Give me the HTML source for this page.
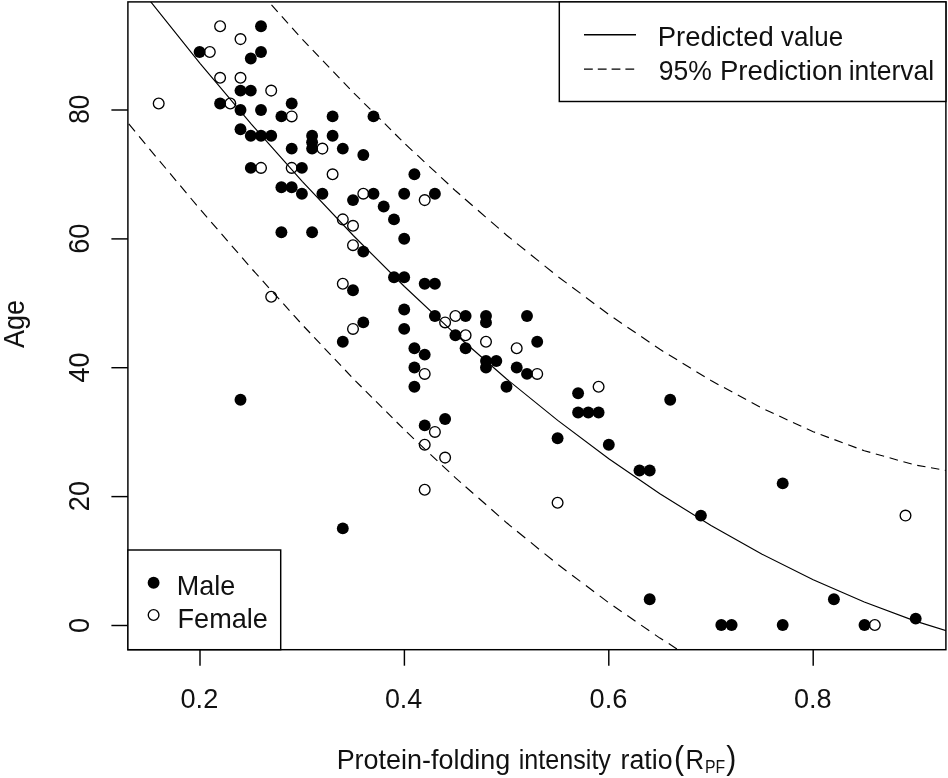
<!DOCTYPE html>
<html lang="en"><head><meta charset="utf-8"><title>Age vs protein-folding intensity ratio</title>
<style>html,body{margin:0;padding:0;background:#fff}body{width:948px;height:778px;overflow:hidden}</style></head>
<body>
<svg width="948" height="778" viewBox="0 0 948 778" style="display:block">
<rect x="0" y="0" width="948" height="778" fill="#fff"/>
<defs><clipPath id="cp"><rect x="127.9" y="1.9" width="818.0" height="647.8000000000001"/></clipPath></defs>
<g clip-path="url(#cp)">
<circle cx="220.1" cy="26.3" r="5.35" fill="none" stroke="#000" stroke-width="1.35"/>
<circle cx="261.0" cy="26.3" r="5.95" fill="#000"/>
<circle cx="240.5" cy="39.1" r="5.35" fill="none" stroke="#000" stroke-width="1.35"/>
<circle cx="199.6" cy="52.0" r="5.95" fill="#000"/>
<circle cx="209.8" cy="52.0" r="5.35" fill="none" stroke="#000" stroke-width="1.35"/>
<circle cx="261.0" cy="52.0" r="5.95" fill="#000"/>
<circle cx="250.8" cy="58.5" r="5.95" fill="#000"/>
<circle cx="220.1" cy="77.8" r="5.35" fill="none" stroke="#000" stroke-width="1.35"/>
<circle cx="240.5" cy="77.8" r="5.35" fill="none" stroke="#000" stroke-width="1.35"/>
<circle cx="240.5" cy="90.6" r="5.95" fill="#000"/>
<circle cx="250.8" cy="90.6" r="5.95" fill="#000"/>
<circle cx="271.2" cy="90.6" r="5.35" fill="none" stroke="#000" stroke-width="1.35"/>
<circle cx="158.7" cy="103.5" r="5.35" fill="none" stroke="#000" stroke-width="1.35"/>
<circle cx="220.1" cy="103.5" r="5.95" fill="#000"/>
<circle cx="230.3" cy="103.5" r="5.35" fill="none" stroke="#000" stroke-width="1.35"/>
<circle cx="291.7" cy="103.5" r="5.95" fill="#000"/>
<circle cx="240.5" cy="110.0" r="5.95" fill="#000"/>
<circle cx="261.0" cy="110.0" r="5.95" fill="#000"/>
<circle cx="281.4" cy="116.4" r="5.95" fill="#000"/>
<circle cx="291.7" cy="116.4" r="5.35" fill="none" stroke="#000" stroke-width="1.35"/>
<circle cx="332.6" cy="116.4" r="5.95" fill="#000"/>
<circle cx="240.5" cy="129.3" r="5.95" fill="#000"/>
<circle cx="250.8" cy="135.7" r="5.95" fill="#000"/>
<circle cx="261.0" cy="135.7" r="5.95" fill="#000"/>
<circle cx="271.2" cy="135.7" r="5.95" fill="#000"/>
<circle cx="312.1" cy="135.7" r="5.95" fill="#000"/>
<circle cx="312.1" cy="142.2" r="5.95" fill="#000"/>
<circle cx="312.1" cy="148.6" r="5.95" fill="#000"/>
<circle cx="332.6" cy="135.7" r="5.95" fill="#000"/>
<circle cx="291.7" cy="148.6" r="5.95" fill="#000"/>
<circle cx="322.4" cy="148.6" r="5.35" fill="none" stroke="#000" stroke-width="1.35"/>
<circle cx="250.8" cy="167.9" r="5.95" fill="#000"/>
<circle cx="261.0" cy="167.9" r="5.35" fill="none" stroke="#000" stroke-width="1.35"/>
<circle cx="291.7" cy="167.9" r="5.35" fill="none" stroke="#000" stroke-width="1.35"/>
<circle cx="301.9" cy="167.9" r="5.95" fill="#000"/>
<circle cx="332.6" cy="174.3" r="5.35" fill="none" stroke="#000" stroke-width="1.35"/>
<circle cx="281.4" cy="187.2" r="5.95" fill="#000"/>
<circle cx="291.7" cy="187.2" r="5.95" fill="#000"/>
<circle cx="301.9" cy="193.7" r="5.95" fill="#000"/>
<circle cx="322.4" cy="193.7" r="5.95" fill="#000"/>
<circle cx="373.5" cy="116.4" r="5.95" fill="#000"/>
<circle cx="342.8" cy="148.6" r="5.95" fill="#000"/>
<circle cx="363.3" cy="155.0" r="5.95" fill="#000"/>
<circle cx="414.4" cy="174.3" r="5.95" fill="#000"/>
<circle cx="353.0" cy="200.1" r="5.95" fill="#000"/>
<circle cx="363.3" cy="193.7" r="5.35" fill="none" stroke="#000" stroke-width="1.35"/>
<circle cx="373.5" cy="193.7" r="5.95" fill="#000"/>
<circle cx="404.2" cy="193.7" r="5.95" fill="#000"/>
<circle cx="434.9" cy="193.7" r="5.95" fill="#000"/>
<circle cx="424.7" cy="200.1" r="5.35" fill="none" stroke="#000" stroke-width="1.35"/>
<circle cx="383.7" cy="206.5" r="5.95" fill="#000"/>
<circle cx="394.0" cy="219.4" r="5.95" fill="#000"/>
<circle cx="342.8" cy="219.4" r="5.35" fill="none" stroke="#000" stroke-width="1.35"/>
<circle cx="353.0" cy="225.8" r="5.35" fill="none" stroke="#000" stroke-width="1.35"/>
<circle cx="281.4" cy="232.3" r="5.95" fill="#000"/>
<circle cx="312.1" cy="232.3" r="5.95" fill="#000"/>
<circle cx="404.2" cy="238.7" r="5.95" fill="#000"/>
<circle cx="353.0" cy="245.2" r="5.35" fill="none" stroke="#000" stroke-width="1.35"/>
<circle cx="363.3" cy="251.6" r="5.95" fill="#000"/>
<circle cx="394.0" cy="277.3" r="5.95" fill="#000"/>
<circle cx="404.2" cy="277.3" r="5.95" fill="#000"/>
<circle cx="424.7" cy="283.8" r="5.95" fill="#000"/>
<circle cx="434.9" cy="283.8" r="5.95" fill="#000"/>
<circle cx="342.8" cy="283.8" r="5.35" fill="none" stroke="#000" stroke-width="1.35"/>
<circle cx="353.0" cy="290.2" r="5.95" fill="#000"/>
<circle cx="404.2" cy="309.5" r="5.95" fill="#000"/>
<circle cx="434.9" cy="316.0" r="5.95" fill="#000"/>
<circle cx="455.4" cy="316.0" r="5.35" fill="none" stroke="#000" stroke-width="1.35"/>
<circle cx="465.6" cy="316.0" r="5.95" fill="#000"/>
<circle cx="486.0" cy="316.0" r="5.95" fill="#000"/>
<circle cx="486.0" cy="322.4" r="5.95" fill="#000"/>
<circle cx="527.0" cy="316.0" r="5.95" fill="#000"/>
<circle cx="445.1" cy="322.4" r="5.35" fill="none" stroke="#000" stroke-width="1.35"/>
<circle cx="363.3" cy="322.4" r="5.95" fill="#000"/>
<circle cx="353.0" cy="328.9" r="5.35" fill="none" stroke="#000" stroke-width="1.35"/>
<circle cx="404.2" cy="328.9" r="5.95" fill="#000"/>
<circle cx="455.4" cy="335.3" r="5.95" fill="#000"/>
<circle cx="465.6" cy="335.3" r="5.35" fill="none" stroke="#000" stroke-width="1.35"/>
<circle cx="342.8" cy="341.7" r="5.95" fill="#000"/>
<circle cx="486.0" cy="341.7" r="5.35" fill="none" stroke="#000" stroke-width="1.35"/>
<circle cx="537.2" cy="341.7" r="5.95" fill="#000"/>
<circle cx="414.4" cy="348.2" r="5.95" fill="#000"/>
<circle cx="465.6" cy="348.2" r="5.95" fill="#000"/>
<circle cx="516.7" cy="348.2" r="5.35" fill="none" stroke="#000" stroke-width="1.35"/>
<circle cx="424.7" cy="354.6" r="5.95" fill="#000"/>
<circle cx="486.0" cy="361.0" r="5.95" fill="#000"/>
<circle cx="496.3" cy="361.0" r="5.95" fill="#000"/>
<circle cx="486.0" cy="367.5" r="5.95" fill="#000"/>
<circle cx="414.4" cy="367.5" r="5.95" fill="#000"/>
<circle cx="516.7" cy="367.5" r="5.95" fill="#000"/>
<circle cx="424.7" cy="373.9" r="5.35" fill="none" stroke="#000" stroke-width="1.35"/>
<circle cx="527.0" cy="373.9" r="5.95" fill="#000"/>
<circle cx="537.2" cy="373.9" r="5.35" fill="none" stroke="#000" stroke-width="1.35"/>
<circle cx="414.4" cy="386.8" r="5.95" fill="#000"/>
<circle cx="506.5" cy="386.8" r="5.95" fill="#000"/>
<circle cx="445.1" cy="419.0" r="5.95" fill="#000"/>
<circle cx="424.7" cy="425.4" r="5.95" fill="#000"/>
<circle cx="434.9" cy="431.9" r="5.35" fill="none" stroke="#000" stroke-width="1.35"/>
<circle cx="424.7" cy="444.7" r="5.35" fill="none" stroke="#000" stroke-width="1.35"/>
<circle cx="445.1" cy="457.6" r="5.35" fill="none" stroke="#000" stroke-width="1.35"/>
<circle cx="598.6" cy="386.8" r="5.35" fill="none" stroke="#000" stroke-width="1.35"/>
<circle cx="578.1" cy="393.2" r="5.95" fill="#000"/>
<circle cx="670.2" cy="399.7" r="5.95" fill="#000"/>
<circle cx="578.1" cy="412.5" r="5.95" fill="#000"/>
<circle cx="588.3" cy="412.5" r="5.95" fill="#000"/>
<circle cx="598.6" cy="412.5" r="5.95" fill="#000"/>
<circle cx="557.6" cy="438.3" r="5.95" fill="#000"/>
<circle cx="608.8" cy="444.7" r="5.95" fill="#000"/>
<circle cx="639.5" cy="470.5" r="5.95" fill="#000"/>
<circle cx="649.7" cy="470.5" r="5.95" fill="#000"/>
<circle cx="557.6" cy="502.7" r="5.35" fill="none" stroke="#000" stroke-width="1.35"/>
<circle cx="782.7" cy="483.4" r="5.95" fill="#000"/>
<circle cx="700.9" cy="515.6" r="5.95" fill="#000"/>
<circle cx="905.5" cy="515.6" r="5.35" fill="none" stroke="#000" stroke-width="1.35"/>
<circle cx="649.7" cy="599.2" r="5.95" fill="#000"/>
<circle cx="721.3" cy="625.0" r="5.95" fill="#000"/>
<circle cx="731.6" cy="625.0" r="5.95" fill="#000"/>
<circle cx="782.7" cy="625.0" r="5.95" fill="#000"/>
<circle cx="833.9" cy="599.2" r="5.95" fill="#000"/>
<circle cx="864.5" cy="625.0" r="5.95" fill="#000"/>
<circle cx="874.8" cy="625.0" r="5.35" fill="none" stroke="#000" stroke-width="1.35"/>
<circle cx="915.7" cy="618.6" r="5.95" fill="#000"/>
<circle cx="240.5" cy="399.7" r="5.95" fill="#000"/>
<circle cx="342.8" cy="528.4" r="5.95" fill="#000"/>
<circle cx="424.7" cy="489.8" r="5.35" fill="none" stroke="#000" stroke-width="1.35"/>
<circle cx="271.2" cy="296.7" r="5.35" fill="none" stroke="#000" stroke-width="1.35"/>
<path d="M46.7,-137.6 L97.8,-67.5 L148.9,-0.5 L200.0,63.3 L251.1,123.9 L302.2,181.3 L353.3,235.5 L404.4,286.5 L455.5,334.3 L506.6,379.0 L557.7,420.4 L608.8,458.7 L659.9,493.7 L711.0,525.6 L762.1,554.2 L813.2,579.7 L864.3,602.0 L915.4,621.1 L966.5,637.0 L1017.6,649.7" fill="none" stroke="#000" stroke-width="1.15"/>
<path d="M108.2,98.7 L114.4,106.2 M118.5,111.3 L124.7,118.8 M128.8,123.8 L135.0,131.4 M139.1,136.4 L145.3,143.9 M149.4,148.9 L155.6,156.3 M159.7,161.2 L165.9,168.5 M170.0,173.4 L176.2,180.8 M180.3,185.7 L186.5,193.1 M190.6,198.0 L196.8,205.3 M200.9,210.2 L207.1,217.3 M211.2,222.1 L217.4,229.2 M221.5,233.9 L227.7,241.1 M231.8,245.8 L238.0,252.9 M242.1,257.7 L248.3,264.8 M252.4,269.5 L258.6,276.3 M262.7,280.9 L268.9,287.8 M273.0,292.3 L279.2,299.2 M283.3,303.7 L289.5,310.6 M293.6,315.2 L299.8,322.0 M303.9,326.5 L310.1,333.0 M314.2,337.4 L320.4,343.9 M324.5,348.3 L330.7,354.8 M334.8,359.2 L341.0,365.7 M345.1,370.0 L351.3,376.6 M355.4,380.8 L361.6,387.0 M365.7,391.1 L371.9,397.3 M376.0,401.4 L382.2,407.6 M386.3,411.7 L392.5,417.9 M396.6,422.0 L402.8,428.2 M406.9,432.2 L413.9,438.8 M418.6,443.2 L425.7,449.9 M430.4,454.3 L437.4,460.9 M442.1,465.3 L449.2,471.9 M453.9,476.4 L455.5,477.9 L460.9,482.6 M465.6,486.8 L473.3,493.5 M478.5,498.0 L486.2,504.8 M491.3,509.3 L499.0,516.1 M504.2,520.6 L506.6,522.8 L511.9,527.1 M517.0,531.3 L525.3,538.0 M530.8,542.4 L539.0,549.2 M544.5,553.6 L552.8,560.3 M558.3,564.8 L566.5,571.0 M572.1,575.2 L580.3,581.4 M585.9,585.5 L594.1,591.8 M599.7,595.9 L607.9,602.1 M613.5,606.0 L621.7,611.7 M627.3,615.5 L635.5,621.3 M641.1,625.1 L649.3,630.8 M654.9,634.6 L659.9,638.1 L663.1,640.1 M668.7,643.6 L676.9,648.9 M682.5,652.4 L690.7,657.7 M696.3,661.2 L704.5,666.4 M710.1,669.9 L711.0,670.5 L718.3,674.8 M723.9,678.0 L732.1,682.8 M737.7,686.0 L745.9,690.9 M751.5,694.1 L759.7,698.9 M765.3,702.0 L773.5,706.4 M779.1,709.4 L787.3,713.8 M792.9,716.8 L801.1,721.2 M806.7,724.2 L813.2,727.7 L814.9,728.6 M820.5,731.3 L828.7,735.5 M834.3,738.2 L842.5,742.4 M848.1,745.1 L856.3,749.2 M861.9,752.0 L864.3,753.2 L870.1,756.0 M875.7,758.5 L883.9,762.4 M889.5,765.0 L897.7,768.9 M903.3,771.5 L911.5,775.3 M917.1,777.9 L925.3,781.6 M930.9,784.0 L939.1,787.7 M944.7,790.2 L952.9,793.8 M958.5,796.3 L966.5,799.9 L966.7,800.0 M972.3,802.3 L980.5,805.9" fill="none" stroke="#000" stroke-width="1.15"/>
<path d="M106.7,-205.6 L112.9,-196.9 M117.0,-191.1 L123.2,-182.5 M127.3,-176.7 L133.5,-168.0 M137.6,-162.2 L143.8,-153.6 M147.9,-147.8 L148.9,-146.4 L154.1,-139.6 M158.2,-134.2 L164.4,-126.2 M168.5,-120.8 L174.7,-112.7 M178.8,-107.3 L185.0,-99.3 M189.1,-93.9 L195.3,-85.8 M199.4,-80.4 L200.0,-79.6 L205.6,-72.9 M209.7,-67.9 L215.9,-60.4 M220.0,-55.5 L226.2,-48.0 M230.3,-43.0 L236.5,-35.6 M240.6,-30.6 L246.8,-23.1 M250.9,-18.1 L251.1,-17.9 L257.1,-11.2 M261.2,-6.6 L267.4,0.3 M271.5,4.9 L277.7,11.8 M281.8,16.4 L288.0,23.3 M292.1,27.9 L298.3,34.8 M302.4,39.4 L308.6,45.8 M312.7,50.1 L318.9,56.6 M323.0,60.9 L329.2,67.3 M333.3,71.6 L339.5,78.1 M343.6,82.4 L349.8,88.8 M353.9,93.1 L360.1,99.2 M364.2,103.3 L370.4,109.4 M374.5,113.5 L380.7,119.7 M384.8,123.7 L391.0,129.9 M395.1,134.0 L401.3,140.1 M405.4,144.1 L412.5,150.8 M417.3,155.2 L424.4,161.9 M429.2,166.3 L436.4,172.9 M441.1,177.4 L448.3,184.0 M453.0,188.5 L455.5,190.8 L460.2,194.8 M464.9,199.0 L472.7,205.8 M477.9,210.3 L485.7,217.1 M491.0,221.6 L498.8,228.4 M504.0,232.9 L506.6,235.2 L511.8,239.4 M517.0,243.6 L525.3,250.3 M530.8,254.7 L539.1,261.4 M544.6,265.9 L552.9,272.5 M558.4,277.0 L566.7,283.1 M572.2,287.2 L580.5,293.4 M586.0,297.5 L594.3,303.7 M599.8,307.8 L608.1,314.0 M613.6,317.8 L621.9,323.4 M627.4,327.2 L635.7,332.8 M641.2,336.6 L649.5,342.2 M655.0,346.0 L659.9,349.3 L663.3,351.4 M668.8,354.8 L677.1,359.8 M682.6,363.2 L690.9,368.3 M696.4,371.7 L704.7,376.8 M710.2,380.1 L711.0,380.6 L718.5,384.7 M724.0,387.6 L732.3,392.1 M737.8,395.1 L746.1,399.6 M751.6,402.5 L759.9,407.0 M765.4,409.7 L773.7,413.5 M779.2,416.1 L787.5,419.9 M793.0,422.4 L801.3,426.2 M806.8,428.8 L813.2,431.7 L815.1,432.4 M820.6,434.5 L828.9,437.6 M834.4,439.6 L842.7,442.7 M848.2,444.8 L856.5,447.9 M862.0,449.9 L864.3,450.8 L870.3,452.4 M875.8,454.0 L884.1,456.3 M889.6,457.8 L897.9,460.2 M903.4,461.7 L911.7,464.0 M917.2,465.4 L925.5,466.8 M931.0,467.8 L939.3,469.3 M944.8,470.3 L953.1,471.7 M958.6,472.7 L966.5,474.1 L966.9,474.1 M972.4,474.5 L980.7,475.1" fill="none" stroke="#000" stroke-width="1.15"/>
</g>
<rect x="127.9" y="1.9" width="818.0" height="647.8000000000001" fill="none" stroke="#000" stroke-width="1.45"/>
<line x1="200.0" y1="649.7" x2="200.0" y2="665.7" stroke="#000" stroke-width="1.45"/>
<text transform="translate(180.51 708.10) scale(0.9698 1)" font-family="Liberation Sans, Arial, sans-serif" font-size="28.0" fill="#111">0.2</text>
<line x1="404.4" y1="649.7" x2="404.4" y2="665.7" stroke="#000" stroke-width="1.45"/>
<text transform="translate(384.92 708.10) scale(0.9605 1)" font-family="Liberation Sans, Arial, sans-serif" font-size="28.0" fill="#111">0.4</text>
<line x1="608.8" y1="649.7" x2="608.8" y2="665.7" stroke="#000" stroke-width="1.45"/>
<text transform="translate(589.61 708.10) scale(0.9706 1)" font-family="Liberation Sans, Arial, sans-serif" font-size="28.0" fill="#111">0.6</text>
<line x1="813.2" y1="649.7" x2="813.2" y2="665.7" stroke="#000" stroke-width="1.45"/>
<text transform="translate(794.02 708.10) scale(0.9678 1)" font-family="Liberation Sans, Arial, sans-serif" font-size="28.0" fill="#111">0.8</text>
<line x1="111.4" y1="625.5" x2="127.9" y2="625.5" stroke="#000" stroke-width="1.45"/>
<text transform="translate(89.20 632.89) rotate(-90) scale(0.9097 1)" font-family="Liberation Sans, Arial, sans-serif" font-size="30.0" fill="#111">0</text>
<line x1="111.4" y1="496.6" x2="127.9" y2="496.6" stroke="#000" stroke-width="1.45"/>
<text transform="translate(89.20 511.16) rotate(-90) scale(0.9041 1)" font-family="Liberation Sans, Arial, sans-serif" font-size="30.0" fill="#111">20</text>
<line x1="111.4" y1="367.7" x2="127.9" y2="367.7" stroke="#000" stroke-width="1.45"/>
<text transform="translate(89.20 382.44) rotate(-90) scale(0.9005 1)" font-family="Liberation Sans, Arial, sans-serif" font-size="30.0" fill="#111">40</text>
<line x1="111.4" y1="238.9" x2="127.9" y2="238.9" stroke="#000" stroke-width="1.45"/>
<text transform="translate(89.20 253.76) rotate(-90) scale(0.9073 1)" font-family="Liberation Sans, Arial, sans-serif" font-size="30.0" fill="#111">60</text>
<line x1="111.4" y1="110.0" x2="127.9" y2="110.0" stroke="#000" stroke-width="1.45"/>
<text transform="translate(89.20 123.78) rotate(-90) scale(0.8738 1)" font-family="Liberation Sans, Arial, sans-serif" font-size="30.0" fill="#111">80</text>
<text transform="translate(24.00 348.10) rotate(-90) scale(0.8991 1)" font-family="Liberation Sans, Arial, sans-serif" font-size="30.0" fill="#111">Age</text>
<text transform="translate(336.65 768.90) scale(0.9620 1)" font-family="Liberation Sans, Arial, sans-serif" font-size="28.0" fill="#111">Protein-folding</text>
<text transform="translate(518.77 768.90) scale(0.8976 1)" font-family="Liberation Sans, Arial, sans-serif" font-size="28.0" fill="#111">intensity</text>
<text transform="translate(620.56 768.90) scale(0.9550 1)" font-family="Liberation Sans, Arial, sans-serif" font-size="28.0" fill="#111">ratio</text>
<text transform="translate(674.0 769.2) scale(1.12 1.235)" font-family="Liberation Sans, Arial, sans-serif" font-size="27" fill="#111">(</text>
<text transform="translate(685.44 768.90) scale(0.9184 1)" font-family="Liberation Sans, Arial, sans-serif" font-size="28.0" fill="#111">R</text>
<text transform="translate(704.94 773.00) scale(0.9004 1)" font-family="Liberation Sans, Arial, sans-serif" font-size="17.5" fill="#111">PF</text>
<text transform="translate(726.2 769.2) scale(1.12 1.235)" font-family="Liberation Sans, Arial, sans-serif" font-size="27" fill="#111">)</text>
<rect x="559.3" y="1.9" width="386.6" height="99.6" fill="#fff" stroke="#000" stroke-width="1.45"/>
<line x1="584" y1="34.7" x2="636" y2="34.7" stroke="#000" stroke-width="1.4"/>
<line x1="584" y1="69.1" x2="634.4" y2="69.1" stroke="#000" stroke-width="1.4" stroke-dasharray="8.8,5"/>
<text transform="translate(657.70 46.20) scale(0.9813 1)" font-family="Liberation Sans, Arial, sans-serif" font-size="28.0" fill="#111">Predicted</text>
<text transform="translate(781.07 46.20) scale(0.9280 1)" font-family="Liberation Sans, Arial, sans-serif" font-size="28.0" fill="#111">value</text>
<text transform="translate(658.71 80.20) scale(0.9468 1)" font-family="Liberation Sans, Arial, sans-serif" font-size="28.0" fill="#111">95%</text>
<text transform="translate(719.89 80.20) scale(0.9859 1)" font-family="Liberation Sans, Arial, sans-serif" font-size="28.0" fill="#111">Prediction</text>
<text transform="translate(848.68 80.20) scale(0.9466 1)" font-family="Liberation Sans, Arial, sans-serif" font-size="28.0" fill="#111">interval</text>
<rect x="127.9" y="550.0" width="152.79999999999998" height="99.70000000000005" fill="#fff" stroke="#000" stroke-width="1.45"/>
<circle cx="153.6" cy="582.7" r="5.95" fill="#000"/>
<circle cx="153.6" cy="615" r="5.35" fill="none" stroke="#000" stroke-width="1.35"/>
<text transform="translate(176.84 595.00) scale(0.9646 1)" font-family="Liberation Sans, Arial, sans-serif" font-size="28.0" fill="#111">Male</text>
<text transform="translate(177.53 627.80) scale(0.9680 1)" font-family="Liberation Sans, Arial, sans-serif" font-size="28.0" fill="#111">Female</text>
</svg>
</body></html>
